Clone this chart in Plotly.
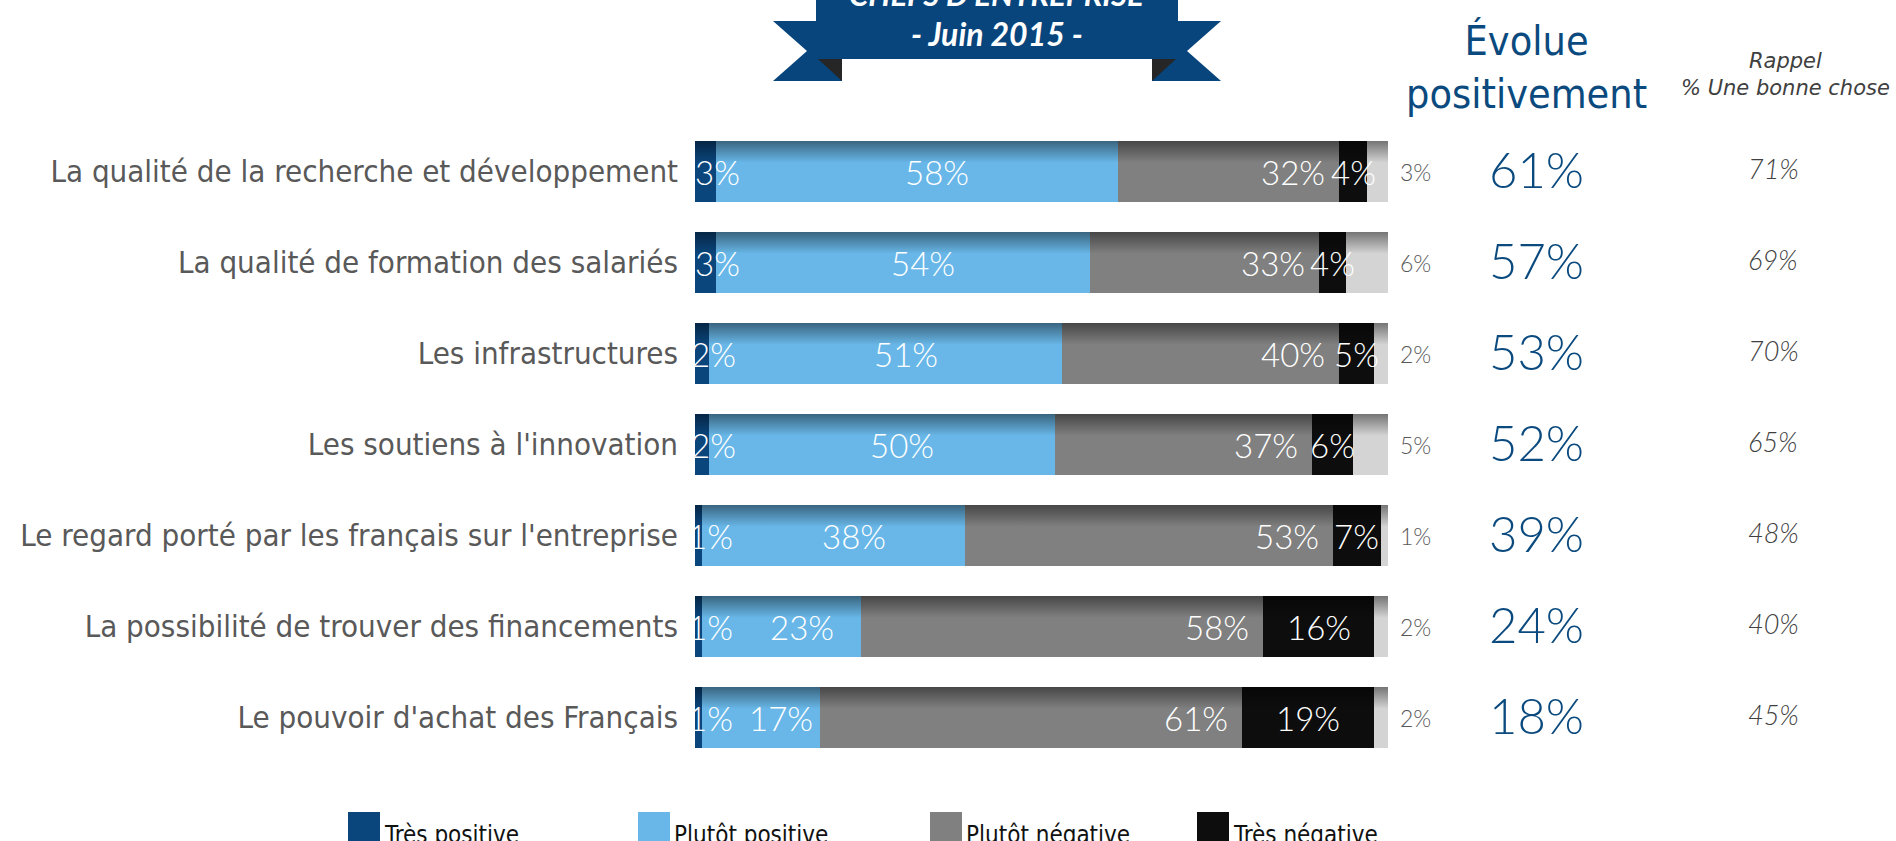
import plotly.graph_objects as go

W, H = 1896, 841

categories = [
    "La qualité de la recherche et développement",
    "La qualité de formation des salariés",
    "Les infrastructures",
    "Les soutiens à l'innovation",
    "Le regard porté par les français sur l'entreprise",
    "La possibilité de trouver des financements",
    "Le pouvoir d'achat des Français",
]
tres_positive = [3, 3, 2, 2, 1, 1, 1]
plutot_positive = [58, 54, 51, 50, 38, 23, 17]
plutot_negative = [32, 33, 40, 37, 53, 58, 61]
tres_negative = [4, 4, 5, 6, 7, 16, 19]
nsp = [3, 6, 2, 5, 1, 2, 2]
evolue_positivement = [61, 57, 53, 52, 39, 24, 18]
rappel_bonne_chose = [71, 69, 70, 65, 48, 40, 45]

series_names = ["Très positive", "Plutôt positive", "Plutôt négative", "Très négative", "NSP"]
series_values = [tres_positive, plutot_positive, plutot_negative, tres_negative, nsp]
colors = ["#0A457C", "#68B7E8", "#808080", "#0D0D0D", "#D4D4D4"]

title_line1 = "CHEFS D'ENTREPRISE"
title_line2 = "- Juin 2015 -"
header_evolue = "Évolue<br>positivement"
header_rappel = "Rappel<br>% Une bonne chose"

LABEL_FONT = "DejaVu Sans Condensed, DejaVu Sans, sans-serif"
NUM_FONT = "Lato, Open Sans, sans-serif"
BLUE = "#0B4A7E"


def px(x):
    return x / W


def py(y):
    return 1 - y / H


rows = list(range(len(categories)))

fig = go.Figure()
for name, vals, col in zip(series_names, series_values, colors):
    fig.add_trace(go.Bar(
        y=rows, x=vals, orientation="h", name=name,
        marker=dict(color=col, line=dict(width=0)),
        showlegend=False, hoverinfo="x+name",
    ))

# darker shading band at the top of each bar (3D look)
bar_w = 0.67
for r in rows:
    top = r - bar_w / 2
    bot = top + 0.24
    total = sum(v[r] for v in series_values)
    fig.add_trace(go.Scatter(
        x=[0, total, total, 0, 0], y=[top, top, bot, bot, top],
        mode="lines", line=dict(width=0), fill="toself",
        fillgradient=dict(type="vertical", start=top, stop=bot,
                          colorscale=[[0, "rgba(0,0,0,0.45)"], [1, "rgba(0,0,0,0)"]]),
        showlegend=False, hoverinfo="skip",
    ))

fig.update_layout(
    barmode="stack", bargap=1 - bar_w,
    width=W, height=H,
    margin=dict(l=0, r=0, t=0, b=0),
    paper_bgcolor="white", plot_bgcolor="white",
    xaxis=dict(domain=[px(695), px(1388)], range=[0, 100], visible=False, fixedrange=True),
    yaxis=dict(domain=[py(763), py(126)], range=[6.5, -0.5],
               tickvals=rows, ticktext=categories, showgrid=False, zeroline=False,
               showline=False, ticks="", ticklabelstandoff=16,
               tickfont=dict(family=LABEL_FONT, size=31, color="#595959")),
)

ann = []
for r in rows:
    tp, pp, pn, tn, ns = (v[r] for v in series_values)
    white = dict(family=NUM_FONT, size=33, color="white", weight=300)
    ann.append(dict(x=tp / 2, y=r, xref="x", yref="y", text=f"{tp}%", showarrow=False,
                    xanchor="center", xshift=12, font=white))
    ann.append(dict(x=tp + pp / 2, y=r, xref="x", yref="y", text=f"{pp}%", showarrow=False,
                    xanchor="center", xshift=20, font=white))
    ann.append(dict(x=tp + pp + pn, y=r, xref="x", yref="y", text=f"{pn}%", showarrow=False,
                    xanchor="right", xshift=-12, font=white))
    ann.append(dict(x=tp + pp + pn + tn / 2, y=r, xref="x", yref="y", text=f"{tn}%", showarrow=False,
                    xanchor="center", font=white))
    ann.append(dict(x=px(1415), y=r, xref="paper", yref="y", text=f"{ns}%", showarrow=False,
                    xanchor="center", font=dict(family=NUM_FONT, size=23, color="#595959", weight=300)))
    ann.append(dict(x=px(1536), y=r, xref="paper", yref="y", text=f"{evolue_positivement[r]}%",
                    showarrow=False, xanchor="center", yshift=3,
                    font=dict(family=NUM_FONT, size=49, color=BLUE, weight=300)))
    ann.append(dict(x=px(1773), y=r, xref="paper", yref="y", text=f"<i>{rappel_bonne_chose[r]}%</i>",
                    showarrow=False, xanchor="center", yshift=3,
                    font=dict(family=NUM_FONT, size=27, color="#404040", weight=300)))

# headers
ann.append(dict(x=px(1526), y=py(67), xref="paper", yref="paper", text=header_evolue,
                showarrow=False, xanchor="center", yanchor="middle",
                font=dict(family=LABEL_FONT, size=41, color=BLUE)))
ann.append(dict(x=px(1785), y=py(74), xref="paper", yref="paper", text=f"<i>{header_rappel}</i>",
                showarrow=False, xanchor="center", yanchor="middle",
                font=dict(family="DejaVu Sans, sans-serif", size=21, color="#404040")))

# banner
shapes = []
banner_blue = "#07457C"
fold = "#262626"
for side in (-1, 1):
    cx = 997
    outer = cx + side * 224
    notch = cx + side * 190
    inner = cx + side * 155
    path = (f"M{px(outer)},{py(21)} L{px(inner)},{py(21)} L{px(inner)},{py(81)} "
            f"L{px(outer)},{py(81)} L{px(notch)},{py(51)} Z")
    shapes.append(dict(type="path", xref="paper", yref="paper", path=path,
                       fillcolor=banner_blue, line=dict(width=0), layer="above"))
    fpath = (f"M{px(cx + side * 179)},{py(59)} L{px(inner)},{py(59)} L{px(inner)},{py(81)} Z")
    shapes.append(dict(type="path", xref="paper", yref="paper", path=fpath,
                       fillcolor=fold, line=dict(width=0), layer="above"))
shapes.append(dict(type="rect", xref="paper", yref="paper", x0=px(816), x1=px(1178),
                   y0=py(59), y1=py(-20), fillcolor=banner_blue, line=dict(width=0), layer="above"))

ann.append(dict(x=px(997), y=py(-6), xref="paper", yref="paper", text=f"<b><i>{title_line1}</i></b>",
                showarrow=False, xanchor="center", yanchor="middle",
                font=dict(family=NUM_FONT, size=31, color="white")))
ann.append(dict(x=px(997), y=py(33), xref="paper", yref="paper", text=f"<b><i>{title_line2}</i></b>",
                showarrow=False, xanchor="center", yanchor="middle",
                font=dict(family=NUM_FONT, size=32, color="white")))

# legend (manual, large squares)
legend_x_px = [348, 638, 930, 1197]
for name, col, lx in zip(series_names[:4], colors[:4], legend_x_px):
    shapes.append(dict(type="rect", xref="paper", yref="paper", x0=px(lx), x1=px(lx + 32),
                       y0=py(846), y1=py(812), fillcolor=col, line=dict(width=0)))
    ann.append(dict(x=px(lx + 34), y=py(835), xref="paper", yref="paper", text=name,
                    showarrow=False, xanchor="left", yanchor="middle",
                    font=dict(family=LABEL_FONT, size=24, color="#111111")))

fig.update_layout(annotations=ann, shapes=shapes)
fig.write_html("out.html", config={"displayModeBar": False},
               post_script="document.body.style.margin='0';document.body.style.overflow='hidden';")
